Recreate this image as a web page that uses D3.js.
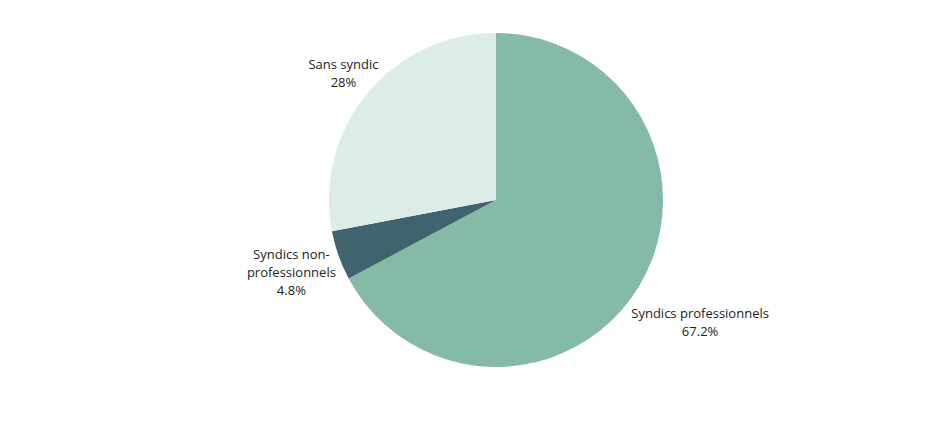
<!DOCTYPE html>
<html>
<head>
<meta charset="utf-8">
<script src="https://cdn.jsdelivr.net/npm/d3@7"></script>
<style>
  body { margin: 0; background: #fff; }
  svg text { font-family: "Open Sans", sans-serif; font-size: 13px; fill: #222; }
</style>
</head>
<body>
<svg id="pie-svg" width="935" height="437"></svg>
<script>
// data
const categories = ["Syndics professionnels", "Syndics non-professionnels", "Sans syndic"];
const labelLines = [["Syndics professionnels"], ["Syndics non-", "professionnels"], ["Sans syndic"]];
const values = [67.2, 4.8, 28];
const colors = ["#85baa7", "#41636e", "#dcede7"];

const WIDTH = 935, HEIGHT = 437;
const CX = 496, CY = 200, RADIUS = 167;
const LINE_H = 18;
const LABEL_GAP = 6;

// distance from the pie centre to a rectangle
function rectDist (x0, x1, y0, y1) {
  const dx = Math.max(x0, 0, -x1);
  const dy = Math.max(y0, 0, -y1);
  return Math.hypot(dx, dy);
}

function createPie () {

  const svg = d3.select('#pie-svg');
  const g = svg.append("g").attr("transform", `translate(${CX}, ${CY})`);

  const dataset = categories.map((c, i) => ({name: c, lines: labelLines[i], value: values[i], color: colors[i]}));

  const pie = d3.pie().sort(null).value(d => d.value);
  const arc = d3.arc().innerRadius(0).outerRadius(RADIUS);
  const arcs = pie(dataset);

  // slices
  g.selectAll("path")
    .data(arcs)
    .join("path")
    .attr("d", arc)
    .attr("fill", d => d.data.color);

  // outside labels
  const labels = g.selectAll("text")
    .data(arcs)
    .join("text")
    .attr("text-anchor", "middle");

  labels.each(function(d) {
    const t = d3.select(this);
    const lines = d.data.lines.concat([d.data.value + "%"]);
    const n = lines.length;
    lines.forEach((l, i) => {
      t.append("tspan").attr("x", 0).attr("dy", i === 0 ? 0 : LINE_H).text(l);
    });
    // width of each line
    const widths = [];
    t.selectAll("tspan").each(function() { widths.push(this.getComputedTextLength()); });

    // push the block out along the middle angle until every line clears the pie
    const a = (d.startAngle + d.endAngle) / 2;
    const ux = Math.sin(a), uy = -Math.cos(a);
    let dist = RADIUS;
    const clear = D => widths.every((w, i) => {
      const cy = uy * D + (i - (n - 1) / 2) * LINE_H;
      const cx = ux * D;
      return rectDist(cx - w / 2, cx + w / 2, cy - 5.5, cy + 8) >= RADIUS + LABEL_GAP;
    });
    while (!clear(dist)) dist += 0.5;

    const x = ux * dist, y = uy * dist;
    const y0 = y - (n - 1) / 2 * LINE_H + 4.5;
    t.attr("transform", `translate(${x}, ${y0})`);
  });
}

createPie();
</script>
</body>
</html>
